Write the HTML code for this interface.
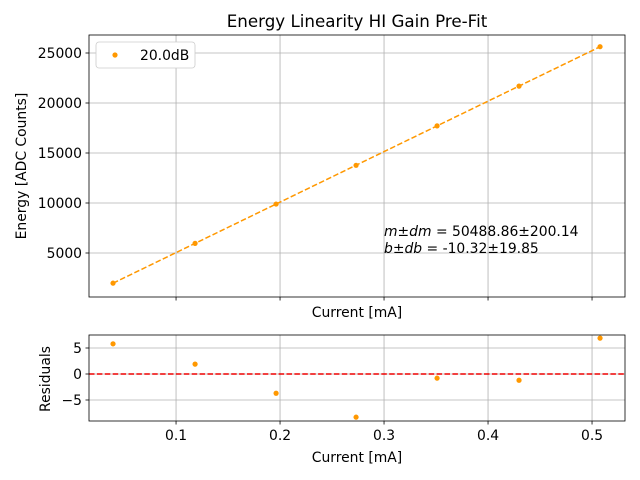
<!DOCTYPE html>
<html><head><meta charset="utf-8"><style>body{margin:0;background:#fff}svg{display:block;font-family:"DejaVu Sans","Liberation Sans",sans-serif}</style></head>
<body>
<svg id="c" width="640" height="480"></svg>
<script>
const currents=[0.0394,0.1183,0.1962,0.2731,0.3510,0.4298,0.5077];
const residuals=[5.8,1.9,-3.7,-8.3,-0.8,-1.2,6.9];
const slope=50488.86, intercept=-10.32;
const energies=currents.map((c,i)=>slope*c+intercept+residuals[i]);
const xTicks=[0.1,0.2,0.3,0.4,0.5];
const yTicks=[5000,10000,15000,20000,25000];
const rTicks=[5,0,-5];
const NS="http://www.w3.org/2000/svg";
const svg=document.getElementById('c');
function el(t,a,p){const e=document.createElementNS(NS,t);for(const k in a)e.setAttribute(k,a[k]);(p||svg).appendChild(e);return e;}
const L=89,R=625,T1=35,B1=297,T2=335,B2=421;
const xs=v=>L+(v-0.0163)/(0.5317-0.0163)*(R-L);
const ys=v=>B1-(v-600)/(26800-600)*(B1-T1);
const rs=v=>B2-(v+9.04)/(7.5+9.04)*(B2-T2);
xTicks.forEach(v=>{const x=xs(v);
 let g=el('line',{x1:x,x2:x,y1:T1,y2:B1,stroke:'#b0b0b0','stroke-width':0.8});
 g=el('line',{x1:x,x2:x,y1:T2,y2:B2,stroke:'#b0b0b0','stroke-width':0.8});
 el('line',{x1:x,x2:x,y1:B1,y2:B1+3.5,stroke:'#000','stroke-width':0.8});
 el('line',{x1:x,x2:x,y1:B2,y2:B2+3.5,stroke:'#000','stroke-width':0.8});
 const t=el('text',{x:x,y:B2+19,'text-anchor':'middle','font-size':13.9});t.textContent=String(v);
 });
yTicks.forEach(v=>{const y=ys(v);
 const g=el('line',{x1:L,x2:R,y1:y,y2:y,stroke:'#b0b0b0','stroke-width':0.8});
 el('line',{x1:L-3.5,x2:L,y1:y,y2:y,stroke:'#000','stroke-width':0.8});
 const t=el('text',{x:L-7,y:y+5,'text-anchor':'end','font-size':13.9});t.textContent=String(v);
 });
rTicks.forEach(v=>{const y=rs(v);
 const g=el('line',{x1:L,x2:R,y1:y,y2:y,stroke:'#b0b0b0','stroke-width':0.8});
 el('line',{x1:L-3.5,x2:L,y1:y,y2:y,stroke:'#000','stroke-width':0.8});
 const t=el('text',{x:L-7,y:y+5,'text-anchor':'end','font-size':13.9});t.textContent=(v<0?'\u2212'+(-v):String(v));
 });
const x0=currents[0],x1=currents[currents.length-1];
let f=el('line',{x1:xs(x0),y1:ys(slope*x0+intercept),x2:xs(x1),y2:ys(slope*x1+intercept),stroke:'#ff9800','stroke-width':1.5,'stroke-dasharray':'5.5,2.4'});

let z=el('line',{x1:L,x2:R,y1:rs(0),y2:rs(0),stroke:'#e00','stroke-width':1.5,'stroke-dasharray':'5.5,2.4'});

currents.forEach((c,i)=>{
 let p=el('circle',{cx:xs(c),cy:ys(energies[i]),r:2.6,fill:'#ff9800'});
 p=el('circle',{cx:xs(c),cy:rs(residuals[i]),r:2.6,fill:'#ff9800'});});
let fr=el('rect',{x:L,y:T1,width:R-L,height:B1-T1,fill:'none',stroke:'#000','stroke-width':0.8});
fr=el('rect',{x:L,y:T2,width:R-L,height:B2-T2,fill:'none',stroke:'#000','stroke-width':0.8});
</script>
<svg width="640" height="480" style="position:absolute;left:0;top:0">
<text x="357" y="27" text-anchor="middle" font-size="16.7">Energy Linearity HI Gain Pre-Fit</text>
<text x="357" y="317" text-anchor="middle" font-size="13.9">Current [mA]</text>
<text x="357" y="462" text-anchor="middle" font-size="13.9">Current [mA]</text>
<text transform="translate(26,166) rotate(-90)" text-anchor="middle" font-size="13.9">Energy [ADC Counts]</text>
<text transform="translate(50,379) rotate(-90)" text-anchor="middle" font-size="13.9">Residuals</text>
<text x="384" y="236" font-size="13.9"><tspan font-style="italic">m</tspan>±<tspan font-style="italic">dm</tspan> = 50488.86±200.14</text>
<text x="384" y="253" font-size="13.9"><tspan font-style="italic">b</tspan>±<tspan font-style="italic">db</tspan> = -10.32±19.85</text>
<g>
<rect x="96" y="42" width="99" height="26" rx="3" fill="#fff" stroke="#ccc" stroke-width="0.8"/>
<circle cx="115" cy="55" r="2.6" fill="#ff9800"/>
<text x="140" y="60" font-size="13.9">20.0dB</text>
</g>
</svg>
</body></html>
